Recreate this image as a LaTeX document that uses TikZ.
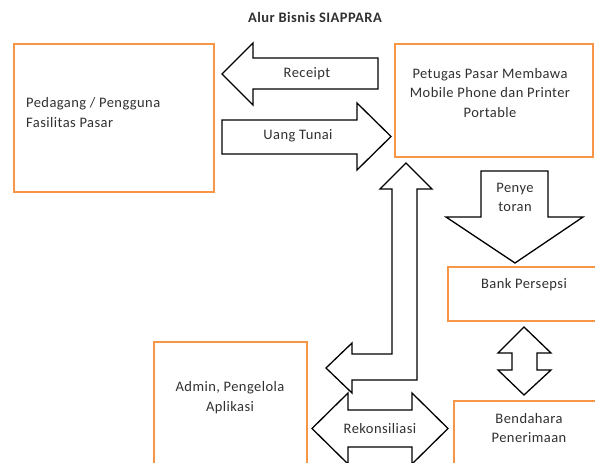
\documentclass[tikz,border=0pt]{standalone}
\usepackage{fontspec}
\setmainfont{Carlito}[LetterSpace=3]
\definecolor{boxorange}{HTML}{F79646}
\definecolor{txtgray}{HTML}{303030}
\begin{document}
\begin{tikzpicture}[x=1pt,y=-1pt,
  box/.style={draw=boxorange, line width=1.4pt, rectangle, inner sep=0pt},
  blk/.style={draw=black, line width=1.3pt, fill=white, line join=miter},
  txt/.style={font=\fontsize{14.5}{19.5}\selectfont, text=txtgray, align=center, inner sep=0pt}]
\useasboundingbox (0,0) rectangle (595,463);
\clip (0,0) rectangle (595,463);
% boxes
\node[box, minimum width=200, minimum height=148] (pedagang) at (114,118) {};
\node[box, minimum width=198, minimum height=113] (petugas) at (494,100.5) {};
\node[box, minimum width=162, minimum height=54] (bank) at (529,294) {};
\node[box, minimum width=161, minimum height=79] (bendahara) at (534.5,440.5) {};
\node[box, minimum width=153, minimum height=138] (admin) at (230.5,411) {};
% title
\node[font=\bfseries\fontsize{14.5}{17}\selectfont, text=txtgray, inner sep=0pt] (title) at (315,17) {Alur Bisnis SIAPPARA};
% block arrows
\draw[blk] (222,74) -- (253,43) -- (253,58) -- (378,58) -- (378,89) -- (253,89) -- (253,105) -- cycle;
\draw[blk] (222,120) -- (357,120) -- (357,103) -- (391,136.5) -- (357,170) -- (357,154) -- (222,154) -- cycle;
\draw[blk] (481,171) -- (548,171) -- (548,217) -- (583,217) -- (515,263) -- (446,217) -- (481,217) -- cycle;
\draw[blk] (406,163) -- (432,189) -- (417,189) -- (417,380) -- (352,380) -- (352,393) -- (326,368) -- (352,343) -- (352,354) -- (392,354) -- (392,189) -- (380,189) -- cycle;
\draw[blk] (524,327) -- (551,353) -- (537,353) -- (537,370) -- (551,370) -- (524,395) -- (498,370) -- (512,370) -- (512,353) -- (498,353) -- cycle;
\draw[blk] (312,428.5) -- (348,393) -- (348,410) -- (412,410) -- (412,393) -- (448,428.5) -- (412,464) -- (412,447) -- (348,447) -- (348,464) -- cycle;
% labels
\node[txt, align=left, anchor=west] (tpedagang) at (26,112.5) {Pedagang / Pengguna\\Fasilitas Pasar};
\node[txt] (tpetugas) at (490,93) {Petugas Pasar Membawa\\Mobile Phone dan Printer\\Portable};
\node[txt] (treceipt) at (307,74) {Receipt};
\node[txt] (tuang) at (298,136) {Uang Tunai};
\node[txt] (tpenye) at (515,197.5) {Penye\\toran};
\node[txt] (tbank) at (524,285) {Bank Persepsi};
\node[txt] (tbend) at (529,428) {Bendahara\\Penerimaan};
\node[txt] (tadmin) at (230,397.5) {Admin, Pengelola\\Aplikasi};
\node[txt] (trekon) at (380,428.5) {Rekonsiliasi};
\end{tikzpicture}
\end{document}
